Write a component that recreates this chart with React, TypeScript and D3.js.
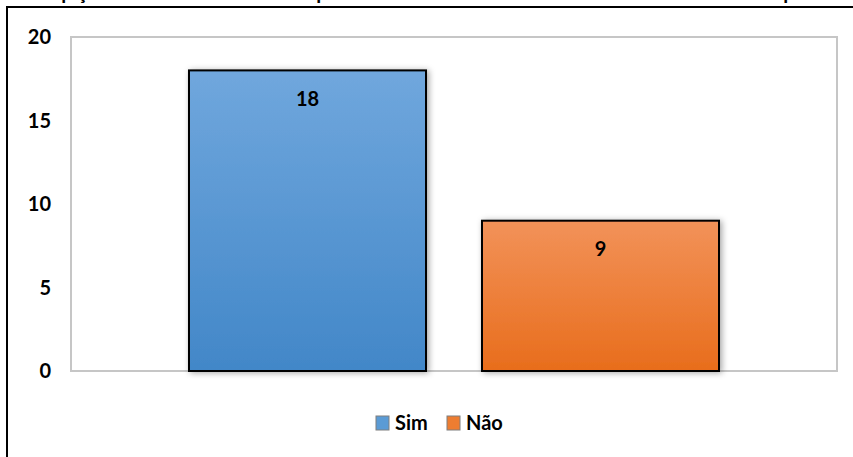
import React from "react";
import * as d3 from "d3";

const categories = [""];
const seriesNames = ["Sim", "Não"];
const seriesValues = [18, 9];
const yTicks = [0, 5, 10, 15, 20];
const topFragments = [
  { ch: "p", x: 67 },
  { ch: "ç", x: 82 },
  { ch: "p", x: 322 },
  { ch: "p", x: 789 },
];

const W = 853;
const H = 457;
const FONT = "Lato, 'Open Sans', sans-serif";

export default function App() {
  const plot = { left: 71, right: 837, top: 37, bottom: 371 };
  const y = d3.scaleLinear().domain([0, 20]).range([plot.bottom, plot.top]);
  const xOuter = d3
    .scaleBand<string>()
    .domain(categories)
    .range([plot.left, plot.right])
    .paddingInner(0)
    .paddingOuter(0.2226);
  const xInner = d3
    .scaleBand<string>()
    .domain(seriesNames)
    .range([0, xOuter.bandwidth()])
    .paddingInner(0.191)
    .paddingOuter(0);

  const grads = [
    { id: "gSim", top: "#70a7dd", bottom: "#4287c8" },
    { id: "gNao", top: "#f29259", bottom: "#e86d1c" },
  ];
  const legendFill = ["#5b9bd5", "#ed7d31"];

  const legendItems = [
    { name: "Sim", sx: 376, tx: 395 },
    { name: "Não", sx: 447, tx: 466 },
  ];

  return (
    <svg
      width={W}
      height={H}
      style={{ position: "absolute", left: 0, top: 0, background: "#fff" }}
    >
      <defs>
        {grads.map((g) => (
          <linearGradient key={g.id} id={g.id} x1="0" y1="0" x2="0" y2="1">
            <stop offset="0%" stopColor={g.top} />
            <stop offset="100%" stopColor={g.bottom} />
          </linearGradient>
        ))}
        <filter id="shadow" x="-10%" y="-10%" width="120%" height="120%">
          <feDropShadow dx="2" dy="1" stdDeviation="3" floodColor="#000" floodOpacity="0.35" />
        </filter>
      </defs>

      {/* clipped fragments of a text line above the frame */}
      {topFragments.map((f, i) => (
        <text
          key={i}
          x={f.x}
          y={-1}
          textAnchor="middle"
          fontFamily={FONT}
          fontWeight="bold"
          fontSize={20}
          fill="#000"
        >
          {f.ch}
        </text>
      ))}

      {/* outer frame */}
      <line x1={6} x2={W} y1={7} y2={7} stroke="#000" strokeWidth={2} />
      <line x1={7} x2={7} y1={6} y2={H} stroke="#000" strokeWidth={2} />

      {/* plot area */}
      <rect
        x={plot.left}
        y={plot.top}
        width={plot.right - plot.left}
        height={plot.bottom - plot.top}
        fill="#fff"
        stroke="#c6c6c6"
        strokeWidth={2}
      />

      {/* y tick labels */}
      {yTicks.map((t) => (
        <text
          key={t}
          x={51}
          y={y(t)}
          dy="0.36em"
          textAnchor="end"
          fontFamily={FONT}
          fontWeight="bold"
          fontSize={20}
          fill="#000"
        >
          {t}
        </text>
      ))}

      {/* bars */}
      {categories.map((c) => (
        <g key={c} transform={`translate(${xOuter(c)},0)`}>
          {seriesNames.map((s, i) => {
            const v = seriesValues[i];
            const bx = xInner(s)!;
            const bw = xInner.bandwidth();
            return (
              <g key={s}>
                <rect
                  x={bx}
                  y={y(v)}
                  width={bw}
                  height={y(0) - y(v)}
                  fill={`url(#${grads[i].id})`}
                  stroke="#000"
                  strokeWidth={2}
                  filter="url(#shadow)"
                />
                <text
                  x={bx + bw / 2}
                  y={y(v) + 28}
                  dy="0.36em"
                  textAnchor="middle"
                  fontFamily={FONT}
                  fontWeight="bold"
                  fontSize={20}
                  fill="#000"
                >
                  {v}
                </text>
              </g>
            );
          })}
        </g>
      ))}

      {/* legend */}
      {legendItems.map((l, i) => (
        <g key={l.name}>
          <rect
            x={l.sx}
            y={416}
            width={13}
            height={14}
            fill={legendFill[i]}
            stroke="#7f7f7f"
            strokeWidth={1}
          />
          <text
            x={l.tx}
            y={430}
            fontFamily={FONT}
            fontWeight="bold"
            fontSize={20}
            fill="#000"
          >
            {l.name}
          </text>
        </g>
      ))}
    </svg>
  );
}
